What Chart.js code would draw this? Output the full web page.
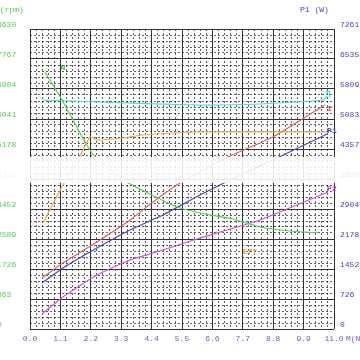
<!DOCTYPE html>
<html>
<head>
<meta charset="utf-8">
<script src="https://cdn.jsdelivr.net/npm/chart.js@4.4.0/dist/chart.umd.min.js"></script>
<style>
  html, body { margin: 0; padding: 0; background: #fff; }
  #wrap { width: 360px; height: 360px; }
</style>
</head>
<body>
<div id="wrap"><canvas id="perfChart" width="360" height="360"></canvas></div>
<script>
// tick labels
var xTicks = ['0.0', '1.1', '2.2', '3.3', '4.4', '5.5', '6.6', '7.7', '8.8', '9.9', '11.0'];
var leftTicks = ['0', '863', '1726', '2589', '3452', '4315', '5178', '6041', '6904', '7767', '8630'];
var rightTicks = ['0', '726', '1452', '2178', '2904', '3630', '4357', '5083', '5809', '6535', '7261'];

// n (rpm) - left axis
var speedM = [0.54, 1.16, 2.24, 3.36, 4.41, 5.32, 6.15, 7.34, 8.32, 9.41, 10.42];
var speedRpm = [7393, 6588, 5063, 4287, 3855, 3510, 3337, 3165, 2934, 2819, 2762];

// right axis series
var currentM = [0.43, 1.19, 2.42, 3.62, 4.45, 5.43, 7.16, 8.79, 10.67];
var currentVal = [1234, 1597, 2106, 2638, 3074, 3534, 4163, 4647, 5421];

var p1M = [0.43, 1.19, 2.42, 3.62, 4.81, 6.15, 7.60, 8.94, 10.75];
var p1Val = [1113, 1476, 1960, 2396, 2759, 3243, 3727, 4139, 4720];

var p2M = [0.47, 1.19, 2.42, 3.62, 4.81, 6.15, 8.32, 10.78];
var p2Val = [387, 775, 1307, 1670, 1912, 2202, 2638, 3316];

var etaM = [0.47, 2.42, 6.05, 8.32, 10.6, 10.75];
var etaVal = [5543, 5494, 5421, 5446, 5543, 5639];

var effM = [0.47, 1.27, 1.74, 2.17, 2.42, 3.36, 4.09, 6.15, 10.75];
var effVal = [2566, 3582, 4090, 4647, 4574, 4623, 4695, 4768, 4768];

function pts(xs, ys) {
    return xs.map(function(x, i) { return { x: x, y: ys[i] }; });
}

function line(label, xs, ys, color, axis) {
    return {
        label: label,
        data: pts(xs, ys),
        borderColor: color,
        borderWidth: 1.2,
        pointRadius: 0,
        tension: 0.15,
        xAxisID: 'x',
        yAxisID: axis
    };
}

// tick labels, series tags and the watermark band
var labelPlugin = {
    id: 'labels',
    afterDraw: function(chart) {
        var ctx = chart.ctx;
        var sx = chart.scales.x, sy = chart.scales.y, sy1 = chart.scales.y1;
        ctx.save();
        ctx.font = '8px "Liberation Mono", monospace';
        ctx.textBaseline = 'middle';

        ctx.fillStyle = '#55cc55';
        ctx.textAlign = 'left';
        leftTicks.forEach(function(t, i) {
            ctx.fillText(t, -3, sy.getPixelForValue(i * 863) - 4);
        });
        ctx.fillText('n(rpm)', -5, 10);

        ctx.fillStyle = '#4848b0';
        rightTicks.forEach(function(t, i) {
            ctx.fillText(t, 340, sy1.getPixelForValue(i * 726.1) - 4);
        });
        ctx.fillText('P1 (W)', 300, 10);

        ctx.fillStyle = '#7a58c8';
        ctx.textAlign = 'center';
        xTicks.forEach(function(t, i) {
            ctx.fillText(t, sx.getPixelForValue(i * 1.1), 339);
        });
        ctx.textAlign = 'left';
        ctx.fillText('M(N.m)', 346, 339);

        // series tags
        ctx.font = 'bold 8px "Liberation Mono", monospace';
        function tag(text, color, m, v, axis) {
            ctx.fillStyle = color;
            ctx.fillText(text, sx.getPixelForValue(m), chart.scales[axis].getPixelForValue(v));
        }
        tag('N', '#33cc33', 1.1, 7520, 'y');
        tag('η', '#33d8d8', 10.7, 5720, 'y1');
        tag('I', '#e05050', 10.75, 5320, 'y1');
        tag('P1', '#4040c0', 10.75, 4800, 'y1');
        tag('P2', '#d040d0', 10.75, 3380, 'y1');
        tag('Eff', '#f0a040', 7.7, 1864, 'y1');

        // white band across the middle
        ctx.fillStyle = 'rgba(255,255,255,0.88)';
        ctx.fillRect(0, 157, 360, 26);
        ctx.restore();
    }
};

var ctx = document.getElementById('perfChart').getContext('2d');
var perfChart = new Chart(ctx, {
    type: 'line',
    data: {
        datasets: [
            line('eta', etaM, etaVal, '#40e0e0', 'y1'),
            line('Eff', effM, effVal, '#f4a848', 'y1'),
            line('n', speedM, speedRpm, '#50d850', 'y'),
            line('P2', p2M, p2Val, '#d850d8', 'y1'),
            line('I', currentM, currentVal, '#e46060', 'y1'),
            line('P1', p1M, p1Val, '#4848c8', 'y1')
        ]
    },
    options: {
        responsive: false,
        animation: false,
        layout: { padding: { left: 30, right: 26, top: 29, bottom: 31 } },
        plugins: { legend: { display: false }, tooltip: { enabled: false } },
        scales: {
            xm: {
                type: 'linear', position: 'bottom', min: 0, max: 50,
                ticks: { display: false, stepSize: 1 },
                grid: {
                    drawTicks: false,
                    color: function(c) { return c.tick.value % 5 === 0 ? 'rgba(0,0,0,0)' : 'rgba(0,0,0,0.62)'; }
                },
                border: { display: false, dash: [2, 2] }
            },
            ym: {
                type: 'linear', position: 'left', min: 0, max: 50,
                ticks: { display: false, stepSize: 1 },
                grid: {
                    drawTicks: false,
                    color: function(c) { return c.tick.value % 5 === 0 ? 'rgba(0,0,0,0)' : 'rgba(0,0,0,0.62)'; }
                },
                border: { display: false, dash: [2, 2] }
            },
            x: {
                type: 'linear', position: 'bottom', min: 0, max: 11,
                afterBuildTicks: function(s) {
                    s.ticks = xTicks.map(function(t, i) { return { value: i * 1.1 }; });
                },
                ticks: { display: false },
                grid: { drawTicks: false, color: '#333' },
                border: { display: false }
            },
            y: {
                type: 'linear', position: 'left', min: 0, max: 8630,
                afterBuildTicks: function(s) {
                    s.ticks = leftTicks.map(function(t, i) { return { value: i * 863 }; });
                },
                ticks: { display: false },
                grid: { drawTicks: false, color: '#333' },
                border: { display: false }
            },
            y1: {
                type: 'linear', position: 'right', min: 0, max: 7261,
                ticks: { display: false },
                grid: { display: false, drawTicks: false },
                border: { display: false }
            }
        }
    },
    plugins: [labelPlugin]
});
</script>
</body>
</html>
